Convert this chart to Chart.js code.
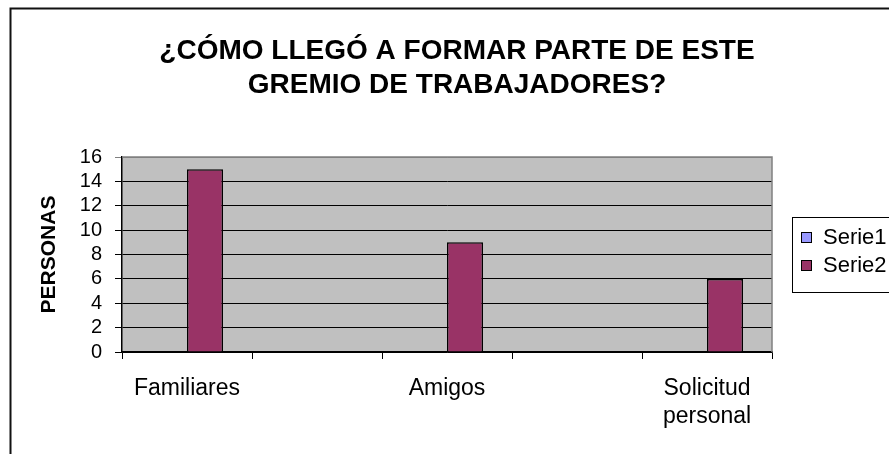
<!DOCTYPE html>
<html>
<head>
<meta charset="utf-8">
<script src="https://cdn.jsdelivr.net/npm/chart.js@4"></script>
<style>
  html, body { margin: 0; padding: 0; background: #fff; }
  #wrap { width: 889px; height: 454px; }
</style>
</head>
<body>
<div id="wrap"><canvas id="myChart"></canvas></div>
<script>
// categorías (Excel deja huecos entre ellas)
const categorias = ['Familiares', '', 'Amigos', '', ['Solicitud', 'personal']];
const serie1 = [null, null, null, null, null];
const serie2 = [15, null, 9, null, 6];
const nombresSeries = ['Serie1', 'Serie2'];
const coloresSeries = ['#9999FF', '#993366'];
const tituloLineas = ['¿CÓMO LLEGÓ A FORMAR PARTE DE ESTE', 'GREMIO DE TRABAJADORES?'];

const FONT = '"Liberation Sans", Arial, sans-serif';

// fondo gris del área de trazado, marco exterior, título y leyenda con borde
const excelLook = {
    id: 'excelLook',
    beforeDraw(chart) {
        const c = chart.ctx;
        const a = chart.chartArea;
        c.save();
        c.fillStyle = '#fff';
        c.fillRect(0, 0, chart.width, chart.height);
        c.fillStyle = '#C0C0C0';
        c.fillRect(a.left, a.top, a.right - a.left, a.bottom - a.top);
        c.restore();
    },
    beforeDatasetsDraw(chart) {
        const c = chart.ctx;
        const a = chart.chartArea;
        c.save();
        c.strokeStyle = '#808080';
        c.lineWidth = 1.5;
        c.beginPath();
        c.moveTo(a.left, a.top);
        c.lineTo(a.right, a.top);
        c.lineTo(a.right, a.bottom);
        c.stroke();
        c.restore();
    },
    afterDraw(chart) {
        const c = chart.ctx;
        c.save();
        // marco exterior
        c.strokeStyle = '#111';
        c.lineWidth = 2;
        c.strokeRect(10.5, 8.5, 900, 500);
        // título (centrado en todo el gráfico, no solo en el área de trazado)
        c.fillStyle = '#000';
        c.font = 'bold 28px ' + FONT;
        c.textAlign = 'center';
        c.textBaseline = 'middle';
        tituloLineas.forEach((t, i) => c.fillText(t, 457, 51 + i * 34));
        // leyenda
        c.textAlign = 'left';
        c.strokeStyle = '#000';
        c.lineWidth = 1;
        c.strokeRect(792.5, 217.5, 120, 75);
        c.font = '22px ' + FONT;
        const ys = [237, 265];
        chart.data.datasets.forEach((ds, i) => {
            c.fillStyle = ds.backgroundColor;
            c.fillRect(801, ys[i] - 5, 10, 10);
            c.strokeStyle = '#000';
            c.strokeRect(801.5, ys[i] - 4.5, 10, 10);
            c.fillStyle = '#000';
            c.fillText(ds.label, 823, ys[i] + 1);
        });
        c.restore();
    }
};

const ctx = document.getElementById('myChart').getContext('2d');

const myChart = new Chart(ctx, {
    type: 'bar',
    data: {
        labels: categorias,
        datasets: [
            {
                label: nombresSeries[0],
                data: serie1,
                backgroundColor: coloresSeries[0],
                borderColor: '#000',
                borderWidth: 1.5
            },
            {
                label: nombresSeries[1],
                data: serie2,
                backgroundColor: coloresSeries[1],
                borderColor: '#000',
                borderWidth: 1.5
            }
        ]
    },
    options: {
        responsive: true,
        maintainAspectRatio: false,
        animation: false,
        layout: { padding: { left: 0, right: 117, top: 157, bottom: 0 } },
        datasets: {
            bar: { categoryPercentage: 0.554, barPercentage: 1.0 }
        },
        scales: {
            x: {
                offset: true,
                grid: {
                    offset: true,
                    drawOnChartArea: false,
                    color: '#000',
                    tickLength: 7
                },
                border: { color: '#000', width: 1.5 },
                ticks: {
                    color: '#000',
                    font: { family: FONT, size: 23, lineHeight: 1.22 },
                    padding: 16,
                    maxRotation: 0,
                    autoSkip: false
                },
                afterFit(scale) { scale.height = 102; }
            },
            y: {
                min: 0,
                max: 16,
                ticks: {
                    stepSize: 2,
                    autoSkip: false,
                    color: '#000',
                    font: { family: FONT, size: 20 },
                    padding: 13
                },
                grid: {
                    color: (c) => c.tick && c.tick.value === 16 ? '#808080' : '#000',
                    tickLength: 7
                },
                border: { color: '#000', width: 1.5 },
                title: {
                    display: true,
                    text: 'PERSONAS',
                    color: '#000',
                    font: { family: FONT, size: 21, weight: 'bold' },
                    padding: { top: 37, bottom: 0 }
                },
                afterFit(scale) { scale.width = 122; }
            }
        },
        plugins: {
            legend: { display: false },
            tooltip: { enabled: false },
            title: { display: false }
        }
    },
    plugins: [excelLook]
});
</script>
</body>
</html>
